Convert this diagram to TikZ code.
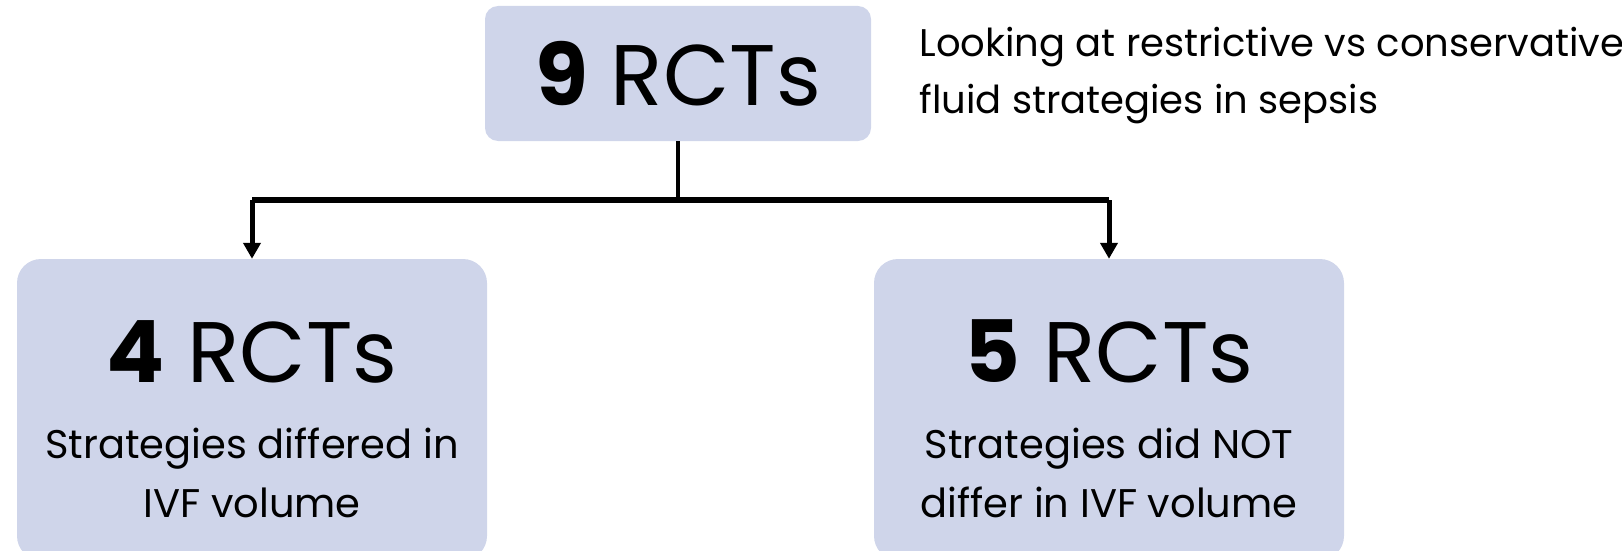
\documentclass[tikz,border=0pt]{standalone}
\usepackage{fontspec}
\setmainfont{Poppins}
\usetikzlibrary{arrows.meta}
\definecolor{boxfill}{RGB}{207,213,234}
\tikzset{
  panel/.style={fill=boxfill, draw=none, rounded corners=#1},
  bigtxt/.style={anchor=base, font=\fontsize{86}{86}\selectfont},
  bodytxt/.style={anchor=base, font=\fontsize{40}{40}\selectfont},
  sidetxt/.style={anchor=base west, font=\fontsize{38.5}{38.5}\selectfont},
  stem/.style={line width=3.5pt, draw=black},
  bar/.style={line width=6pt, draw=black},
  arrowline/.style={line width=5pt, draw=black, -{Triangle[length=16pt,width=17pt]}},
}
\begin{document}
\begin{tikzpicture}[x=1pt,y=-1pt]
\useasboundingbox (0,0) rectangle (1622,551);
\clip (0,0) rectangle (1622,551);
% rounded panels
\path[panel=13pt] (485,6) rectangle (871,141);
\node[inner sep=0, minimum width=386pt, minimum height=135pt] (top) at (678,73.5) {};
\path[panel=24pt] (17,259) rectangle (487,560);
\node[inner sep=0, minimum width=470pt, minimum height=301pt] (left) at (252,409.5) {};
\path[panel=24pt] (874,259) rectangle (1344,560);
\node[inner sep=0, minimum width=470pt, minimum height=301pt] (right) at (1109,409.5) {};
% labels
\node[bigtxt] (ttop) at (678,105) {\textbf{9} RCTs};
\node[bigtxt] (tleft) at (252,382) {\textbf{4} RCTs};
\node[bodytxt] (l1) at (252,458) {Strategies differed in};
\node[bodytxt] (l2) at (252,517) {IVF volume};
\node[bigtxt] (tright) at (1109,382) {\textbf{5} RCTs};
\node[bodytxt] (r1) at (1109,458) {Strategies did NOT};
\node[bodytxt] (r2) at (1109,517) {differ in IVF volume};
\node[sidetxt] (s1) at (916,57) {Looking at restrictive vs conservative};
\node[sidetxt] (s2) at (916,113) {fluid strategies in sepsis};
% connectors
\coordinate (split) at (678,200);
\draw[stem] (top.south) -- (split);
\draw[bar] (left.north |- split) -- (right.north |- split);
\draw[arrowline] (left.north |- split) -- (left.north);
\draw[arrowline] (right.north |- split) -- (right.north);
\end{tikzpicture}
\end{document}
